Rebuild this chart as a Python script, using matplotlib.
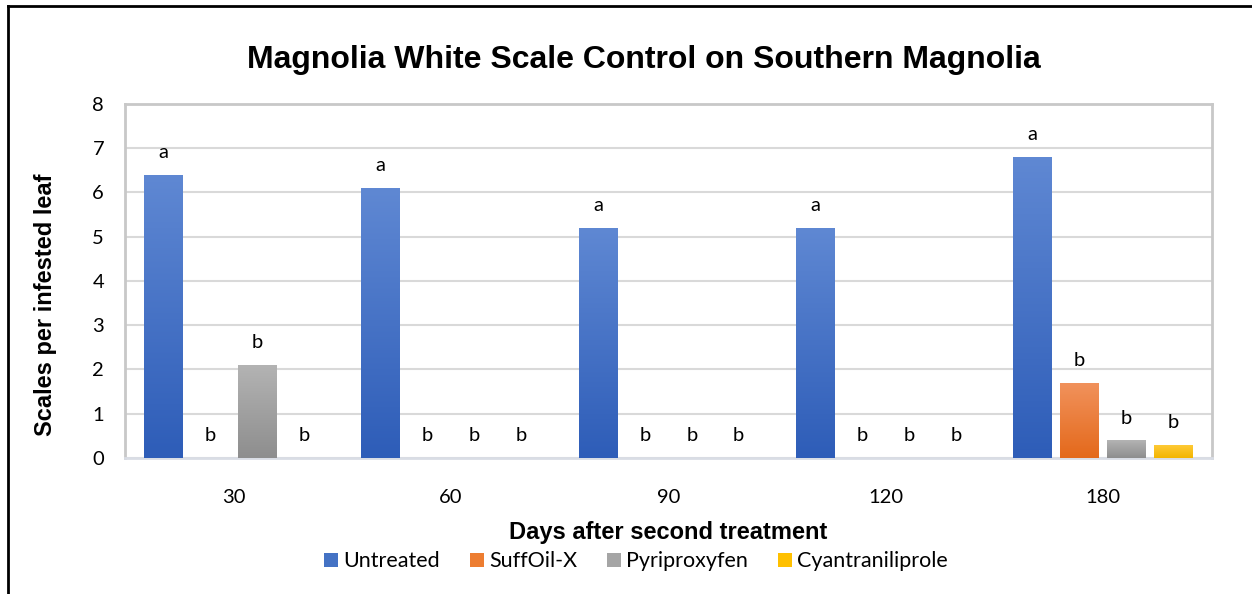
import matplotlib.pyplot as plt
import numpy as np
from matplotlib.colors import LinearSegmentedColormap
from matplotlib.lines import Line2D
from matplotlib.patches import Patch

days = ['30', '60', '90', '120', '180']
treatments = ['Untreated', 'SuffOil-X', 'Pyriproxyfen', 'Cyantraniliprole']
untreated = [6.4, 6.1, 5.2, 5.2, 6.8]
suffoil = [0, 0, 0, 0, 1.7]
pyriproxyfen = [2.1, 0, 0, 0, 0.4]
cyantraniliprole = [0, 0, 0, 0, 0.3]
letters_untreated = ['a', 'a', 'a', 'a', 'a']
letters_other = ['b', 'b', 'b', 'b', 'b']

series = [untreated, suffoil, pyriproxyfen, cyantraniliprole]
letters = [letters_untreated, letters_other, letters_other, letters_other]
# (top, bottom) gradient colours, mimicking the office-style fill
grads = [('#5F88D3', '#2E5DB8'), ('#F1925C', '#E4691B'),
         ('#B3B3B3', '#8E8E8E'), ('#FFCB3A', '#F3B500')]
solid = ['#4472C4', '#ED7D31', '#A5A5A5', '#FFC000']

plt.rcParams['font.family'] = ['Lato', 'DejaVu Sans']

fig = plt.figure(figsize=(12.52, 5.94), dpi=100)
ax = fig.add_axes([0.0998, 0.229, 0.868, 0.596])

x = np.arange(len(days))
slot = 0.216
width = 0.177

for i, vals in enumerate(series):
    pos = x + (i - 1.5) * slot
    bars = ax.bar(pos, vals, width, color='none', edgecolor='none', zorder=3)
    cmap = LinearSegmentedColormap.from_list('g%d' % i, [grads[i][1], grads[i][0]])
    for b, v in zip(bars, vals):
        if v <= 0:
            continue
        bx = b.get_x()
        im = ax.imshow(np.linspace(0, 1, 100).reshape(-1, 1), cmap=cmap,
                       origin='lower', aspect='auto',
                       extent=[bx, bx + width, 0, v], zorder=3)
        im.set_clip_path(b)
    for p, v, t in zip(pos, vals, letters[i]):
        ax.annotate(t, (p, v), xytext=(0, 16), textcoords='offset points',
                    ha='center', va='center', fontsize=14.5, color='#000000')

ax.set_xlim(-0.5, len(days) - 0.5)
ax.set_ylim(0, 8)
ax.set_yticks(range(0, 9))
ax.set_xticks(x)
ax.set_xticklabels(days)
ax.tick_params(axis='both', length=0, labelsize=14.5)
ax.tick_params(axis='y', pad=15)
ax.tick_params(axis='x', pad=22)
ax.grid(axis='y', color='#D9D9D9', linewidth=1.5, zorder=0)
ax.set_axisbelow(True)
for side in ['left', 'top', 'right']:
    ax.spines[side].set_color('#C8C8C8')
    ax.spines[side].set_linewidth(2)
ax.spines['bottom'].set_color('#D9DDE5')
ax.spines['bottom'].set_linewidth(2)

fig.text(0.514, 0.899, 'Magnolia White Scale Control on Southern Magnolia',
         ha='center', va='center', fontsize=23, fontweight='bold',
         family='Liberation Sans')
fig.text(0.036, 0.487, 'Scales per infested leaf', rotation=90,
         ha='center', va='center', fontsize=17, fontweight='bold',
         family='Liberation Sans')
fig.text(0.534, 0.104, 'Days after second treatment', ha='center',
         va='center', fontsize=17, fontweight='bold', family='Liberation Sans')

handles = [Patch(facecolor=c, edgecolor='none') for c in solid]
fig.legend(handles, treatments, loc='center', bbox_to_anchor=(0.508, 0.055),
           ncol=4, frameon=False, fontsize=15.5, handlelength=0.63,
           handleheight=0.63, handletextpad=0.25, columnspacing=1.4)

# outer chart frame (only left and top edges visible in the crop)
fig.add_artist(Line2D([0.0064, 0.0064], [0, 0.9899], color='black',
                      linewidth=2, transform=fig.transFigure))
fig.add_artist(Line2D([0.0064, 1], [0.9899, 0.9899], color='black',
                      linewidth=2, transform=fig.transFigure))

fig.savefig('out.png', dpi=100)
